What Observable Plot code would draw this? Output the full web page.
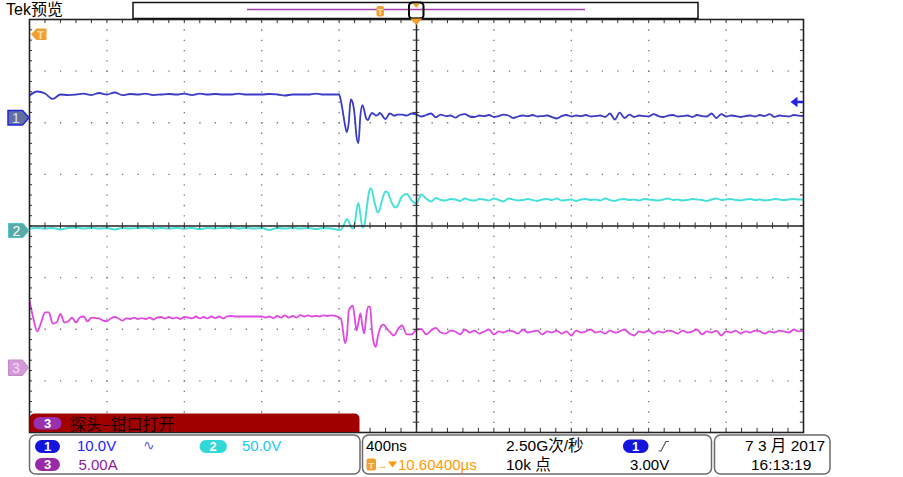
<!DOCTYPE html>
<html><head><meta charset="utf-8">
<script src="https://cdn.jsdelivr.net/npm/d3@7"></script>
<script src="https://cdn.jsdelivr.net/npm/@observablehq/plot@0.6"></script>
<style>
body{margin:0;background:#fff;}
#wrap{position:relative;width:903px;height:477px;overflow:hidden;font-family:"Liberation Sans",Arial,"Noto Sans CJK SC",sans-serif;}
#chart{position:absolute;left:0;top:0;width:903px;height:477px;}
#over{position:absolute;left:0;top:0;}
#over text{font-family:"Liberation Sans",Arial,"Noto Sans CJK SC",sans-serif;}
</style></head>
<body>
<div id="wrap">
<div id="chart"></div>
<svg id="over" width="903" height="477" viewBox="0 0 903 477">
  <!-- header -->
  <text x="6" y="15" font-size="16" fill="#000">Tek预览</text>
  <rect x="133" y="2.5" width="565" height="16" fill="#fff" stroke="#111" stroke-width="1.5"/>
  <line x1="247" y1="9.5" x2="585" y2="9.5" stroke="#a040a8" stroke-width="1.6"/>
  <rect x="376.5" y="6" width="7.5" height="10.5" rx="2" fill="#f0a030"/>
  <text x="380.3" y="14.5" font-size="9" text-anchor="middle" fill="#ffe4b0" font-weight="bold">T</text>
  <rect x="409" y="2.5" width="14.5" height="16" rx="3.5" fill="none" stroke="#000" stroke-width="2"/>
  <path d="M412.5,3.5 L420,3.5 L416.2,8 Z" fill="#f0a030"/>
  <path d="M410,18.5 L422.5,18.5 L416.2,25 Z" fill="#f0a030"/>
  <!-- trigger T marker -->
  <path d="M31,34.2 L36.5,28.5 L46.5,28.5 L46.5,40 L36.5,40 Z" fill="#f0a030"/>
  <text x="40.5" y="38.5" font-size="10" text-anchor="middle" fill="#ffe4b0" font-weight="bold">T</text>
  <!-- channel markers -->
  <path d="M8,110.5 L22.5,110.5 L29,117.8 L22.5,125 L8,125 Z" fill="#6070a0" stroke="#2626d8" stroke-width="1.5"/>
  <text x="16" y="123" font-size="14" text-anchor="middle" fill="#dde2ff">1</text>
  <path d="M8.5,223.5 L23,223.5 L29,230.5 L23,237.5 L8.5,237.5 Z" fill="#5aa8a8" stroke="#4cc8c8" stroke-width="1"/>
  <text x="16.5" y="235.5" font-size="14" text-anchor="middle" fill="#ffffff">2</text>
  <path d="M8.5,360 L22.5,360 L28.5,367.5 L22.5,375.5 L8.5,375.5 Z" fill="#d39ad6" stroke="#c985cc" stroke-width="1"/>
  <text x="16" y="373" font-size="14" text-anchor="middle" fill="#f6dcf6">3</text>
  <!-- ch1 trigger level arrow -->
  <path d="M790.5,102 L797.5,96.8 L797.5,107.2 Z" fill="#2222e0"/>
  <line x1="796" y1="102" x2="803" y2="102" stroke="#2222e0" stroke-width="2.5"/>
  <!-- red banner -->
  <path d="M29.5,432 L29.5,419 Q29.5,413.5 35,413.5 L354,413.5 Q359.5,413.5 359.5,419 L359.5,432 Z" fill="#a00000"/>
  <rect x="33.5" y="417" width="28" height="12.5" rx="6.2" fill="#9a30b0"/>
  <text x="47.5" y="428" font-size="13" text-anchor="middle" fill="#fff" font-weight="bold">3</text>
  <text x="70" y="429.5" font-size="16" fill="#1a0000" style="font-family:'Noto Sans CJK SC',sans-serif">探头–钳口打开</text>
  <!-- readout boxes -->
  <rect x="29.5" y="435" width="330.5" height="39" rx="6" fill="#fff" stroke="#6a6a6a" stroke-width="1.5"/>
  <rect x="362.5" y="435" width="349" height="39" rx="6" fill="#fff" stroke="#6a6a6a" stroke-width="1.5"/>
  <rect x="714.5" y="435" width="115.5" height="39" rx="6" fill="#fff" stroke="#6a6a6a" stroke-width="1.5"/>
  <rect x="35" y="440" width="25" height="13" rx="6.5" fill="#1414dc"/>
  <text x="47.5" y="451" font-size="13" text-anchor="middle" fill="#fff" font-weight="bold">1</text>
  <text x="77" y="451" font-size="15" fill="#2222ff">10.0V</text>
  <text x="143" y="450" font-size="14" fill="#6a6ad8">∿</text>
  <rect x="199.5" y="440" width="27.5" height="13" rx="6.5" fill="#30d8d8"/>
  <text x="213" y="451" font-size="13" text-anchor="middle" fill="#fff" font-weight="bold">2</text>
  <text x="242" y="451" font-size="15" fill="#22c8f0">50.0V</text>
  <rect x="35" y="458" width="25" height="13" rx="6.5" fill="#982aa8"/>
  <text x="47.5" y="469" font-size="13" text-anchor="middle" fill="#fff" font-weight="bold">3</text>
  <text x="78.5" y="470" font-size="15" fill="#9020a0">5.00A</text>

  <text x="366" y="451" font-size="15" fill="#000">400ns</text>
  <rect x="366.5" y="458.5" width="9.5" height="12" rx="2" fill="#f0a030"/>
  <text x="371.2" y="468.5" font-size="9" text-anchor="middle" fill="#ffe4b0" font-weight="bold">T</text>
  <text x="377" y="468.5" font-size="11" fill="#ff9a00">→</text>
  <path d="M388,461.5 L397,461.5 L392.5,467.5 Z" fill="#ff9a00"/>
  <text x="398" y="470" font-size="15" fill="#ff9a00">10.60400µs</text>
  <text x="506" y="451" font-size="15.5" fill="#000">2.50G次/秒</text>
  <text x="506" y="470" font-size="15.5" fill="#000">10k 点</text>
  <rect x="623" y="439.5" width="25.5" height="13.5" rx="6.7" fill="#1414dc"/>
  <text x="635.7" y="451" font-size="13" text-anchor="middle" fill="#fff" font-weight="bold">1</text>
  <path d="M658.5,451 L661,451 L666,441.5 L669,441.5" fill="none" stroke="#555" stroke-width="1.2"/>
  <text x="630" y="470" font-size="15" fill="#000">3.00V</text>

  <text x="745" y="451" font-size="15.5" fill="#000">7 3 月 2017</text>
  <text x="751" y="470" font-size="15.5" fill="#000">16:13:19</text>
</svg>
</div>
<script>
// Oscilloscope record: time in ns relative to trigger; 400 ns/div, 10 divisions
const timeDomain = [-2000, 2000];
const divDomain = [-4, 4];

// Channel settings: volts (or amps) per division, ground marker position (div)
const ch1Scale = 10,  ch1Offset = 2.082;   // 10.0 V/div
const ch2Scale = 50,  ch2Offset = -0.058;  // 50.0 V/div
const ch3Scale = 5,   ch3Offset = -2.741;  // 5.00 A/div

// Segment sampling: pre-event, ringing, post-event
const preStart = -2000, ringStart = -400, postStart = -75;
const ch12PreStep = 40, ch3PreStep = 20, ringStep = 10, postStep = 25;

// CH1 (V)
const ch1Pre = [4.46,5.23,4.84,3.8,4.65,4.55,4.65,4.84,4.55,4.94,4.65,5.04,4.55,4.75,4.65,4.84,4.55,4.65,4.75,4.65,4.84,4.55,4.84,4.65,4.75,4.65,4.65,4.84,4.65,4.65,4.65,4.75,4.65,4.46,4.65,4.65,4.65,4.84,4.65,4.65];
const ch1Ring = [4.65,3.29,1.16,-1.16,-2.65,-0.77,3.68,3.1,0.77,-3.49,-4.75,0.58,2.61,1.55,0,-0.29,0.58,1.07,0.87,0.58,0.68,1.07,0.77,0.19,-0.1,0.39,0.97,0.87,0.58,0.58,0.77];
const ch1Post = [0.77,0.58,0.97,0.77,0.39,0.68,0.97,0.25,
  0.77,0.48,0.58,0.19,0.68,0.87,0.39,0.29,0.58,0.48,
  0.68,0.29,0.48,0.77,0.58,0.1,0.39,0.58,0.48,0.68,
  0.39,0.48,0.58,0.29,0.0,0.48,0.68,0.39,0.58,0.48,
  0.68,0.39,0.48,0.58,0.29,0.97,-0.19,1.16,0.1,0.77,
  0.29,0.58,0.48,0.39,0.87,0.48,0.29,0.58,0.68,0.39,
  0.48,0.58,0.29,0.68,0.48,0.39,0.97,0.1,0.87,0.39,
  0.58,0.48,0.29,0.48,0.58,0.39,0.68,0.48,0.87,0.29,
  0.58,0.48,0.39,0.68,0.58,0.48];

// CH2 (V)
const ch2Pre = [0.5,1.0,0.5,1.0,-0.5,1.0,1.5,0.5,1.0,0.5,1.0,-0.5,1.0,0.5,1.0,1.5,0.5,1.0,0.5,1.0,0.5,1.0,0.0,1.0,0.5,1.0,1.5,0.5,1.0,0.5,1.0,-1.0,1.0,0.5,1.0,0.5,1.0,0.0,1.0,0.5];
const ch2Ring = [-1,-0.5,2.4,6.3,9.7,7.3,2.4,0.5,4.4,17.9,25.2,14,1.5,3.4,16,30.5,39.2,37.3,28.6,20.8,16,18.9,26.6,32.9,36.3,35.8,31.5,26.6,22.8,20.8,21.8];
const ch2Post = [31.5,33.9,27.6,24.7,33.4,29.5,26.6,30,
  28.1,27.6,29.0,28.6,27.1,29.5,28.1,27.6,29.0,28.6,
  27.6,29.5,28.1,26.6,29.5,28.6,27.6,28.1,29.0,28.1,
  27.1,28.6,29.0,28.1,29.5,27.6,28.1,28.6,27.1,28.6,
  29.0,28.1,28.6,27.6,29.5,28.1,27.1,28.6,29.0,28.1,
  28.6,27.6,29.0,28.6,28.1,27.6,28.6,29.5,28.1,28.6,
  27.6,28.1,29.0,28.6,28.1,27.1,28.6,29.5,28.1,28.6,
  29.0,28.1,27.6,28.6,29.0,28.1,28.6,27.6,28.1,29.0,
  28.6,28.1,28.6,29.0,28.6,28.6];

// CH3 (A)
const ch3Pre = [6.5,4.75,3.49,4.36,5.33,5.33,4.26,4.36,5.18,4.36,
  4.46,4.84,4.36,4.84,4.94,4.46,4.84,4.79,4.75,4.55,
  4.5,4.75,4.89,4.75,4.55,4.75,4.7,4.84,4.7,4.79,
  4.7,4.84,4.65,4.84,4.89,4.75,4.89,4.75,4.84,4.7,
  4.89,4.84,4.75,4.94,4.75,4.89,4.75,4.94,4.79,4.94,
  4.75,4.94,4.99,4.94,4.94,4.94,4.94,4.94,4.94,4.94,
  4.94,4.84,4.94,4.79,4.99,4.84,5.04,4.84,4.99,4.84,
  5.08,4.94,5.04,4.94,4.99,4.94,5.04,4.99,5.04,4.99];
const ch3Ring = [4.84,4.7,3.58,2.37,3.0,5.5,5.85,6.0,4.94,3.58,4.36,5.23,4.07,3.3,4.94,5.9,5.9,3.58,2.32,2.0,3.0,3.68,4.07,4.16,3.97,3.68,3.49,3.29,3.1,3.2,3.58];
const ch3Post = [4.07,3.2,3.2,3.68,3.73,3.2,3.58,3.83,3.39,3.29,3.58,
  3.49,3.2,3.68,3.39,3.58,3.29,3.49,3.68,3.2,3.49,
  3.39,3.58,3.49,3.29,3.68,3.39,3.49,3.58,3.2,3.49,
  3.39,3.58,3.29,3.49,3.1,3.58,3.39,3.49,3.68,3.39,
  3.49,3.29,3.58,3.39,3.49,3.68,3.29,3.1,3.49,3.39,
  3.58,3.29,3.49,3.39,3.58,3.49,3.29,3.58,3.39,3.49,
  3.68,3.2,3.49,3.39,3.58,3.1,3.49,3.39,3.58,3.29,
  3.49,3.39,3.58,3.49,3.29,3.49,3.39,3.58,3.49,3.39,
  3.68,3.49,3.58];

function record(pre, preStep, ring, post, scale, offset) {
  const out = [];
  pre.forEach((v, i) => out.push({t: preStart + i * preStep, d: v / scale + offset}));
  ring.forEach((v, i) => out.push({t: ringStart + i * ringStep, d: v / scale + offset}));
  post.forEach((v, i) => out.push({t: postStart + i * postStep, d: v / scale + offset}));
  return out;
}
const ch1 = record(ch1Pre, ch12PreStep, ch1Ring, ch1Post, ch1Scale, ch1Offset);
const ch2 = record(ch2Pre, ch12PreStep, ch2Ring, ch2Post, ch2Scale, ch2Offset);
const ch3 = record(ch3Pre, ch3PreStep, ch3Ring, ch3Post, ch3Scale, ch3Offset);

// graticule
const majorX = [-1600,-1200,-800,-400,400,800,1200,1600];
const majorY = [-3,-2,-1,1,2,3];
const minorX = d3.range(-2000, 2000.1, 80);
const minorY = d3.range(-20, 20.1, 1).map(v => v / 5);

const chart = Plot.plot({
  width: 903, height: 477,
  marginLeft: 29, marginRight: 100, marginTop: 19, marginBottom: 45,
  x: {domain: timeDomain, axis: null},
  y: {domain: divDomain, axis: null},
  style: {background: "transparent"},
  marks: [
    Plot.ruleX(majorX, {stroke: "#777", strokeWidth: 1.3, strokeDasharray: "1.3 9.025"}),
    Plot.ruleY(majorY, {stroke: "#777", strokeWidth: 1.3, strokeDasharray: "1.3 14.18"}),
    Plot.line(ch1, {x: "t", y: "d", stroke: "#3b3bc8", strokeWidth: 1.8, curve: "monotone-x", clip: true}),
    Plot.line(ch2, {x: "t", y: "d", stroke: "#45e0d8", strokeWidth: 1.9, curve: "monotone-x", clip: true}),
    Plot.line(ch3, {x: "t", y: "d", stroke: "#e048e0", strokeWidth: 1.8, curve: "monotone-x", clip: true}),
    Plot.ruleX([0], {stroke: "#222", strokeWidth: 1.5}),
    Plot.ruleY([0], {stroke: "#222", strokeWidth: 1.5}),
    Plot.ruleY(minorY, {x1: -17, x2: 17, stroke: "#333", strokeWidth: 1}),
    Plot.ruleX(minorX, {y1: -0.06, y2: 0.06, stroke: "#333", strokeWidth: 1}),
    Plot.ruleX(minorX, {y1: 4, y2: 3.92, stroke: "#333", strokeWidth: 1}),
    Plot.ruleX(minorX, {y1: -4, y2: -3.92, stroke: "#333", strokeWidth: 1}),
    Plot.ruleY(minorY, {x1: -2000, x2: -1984, stroke: "#333", strokeWidth: 1}),
    Plot.ruleY(minorY, {x1: 1984, x2: 2000, stroke: "#333", strokeWidth: 1}),
    Plot.frame({stroke: "#222", strokeWidth: 1.6})
  ]
});
document.getElementById("chart").appendChild(chart);
</script>
</body></html>
